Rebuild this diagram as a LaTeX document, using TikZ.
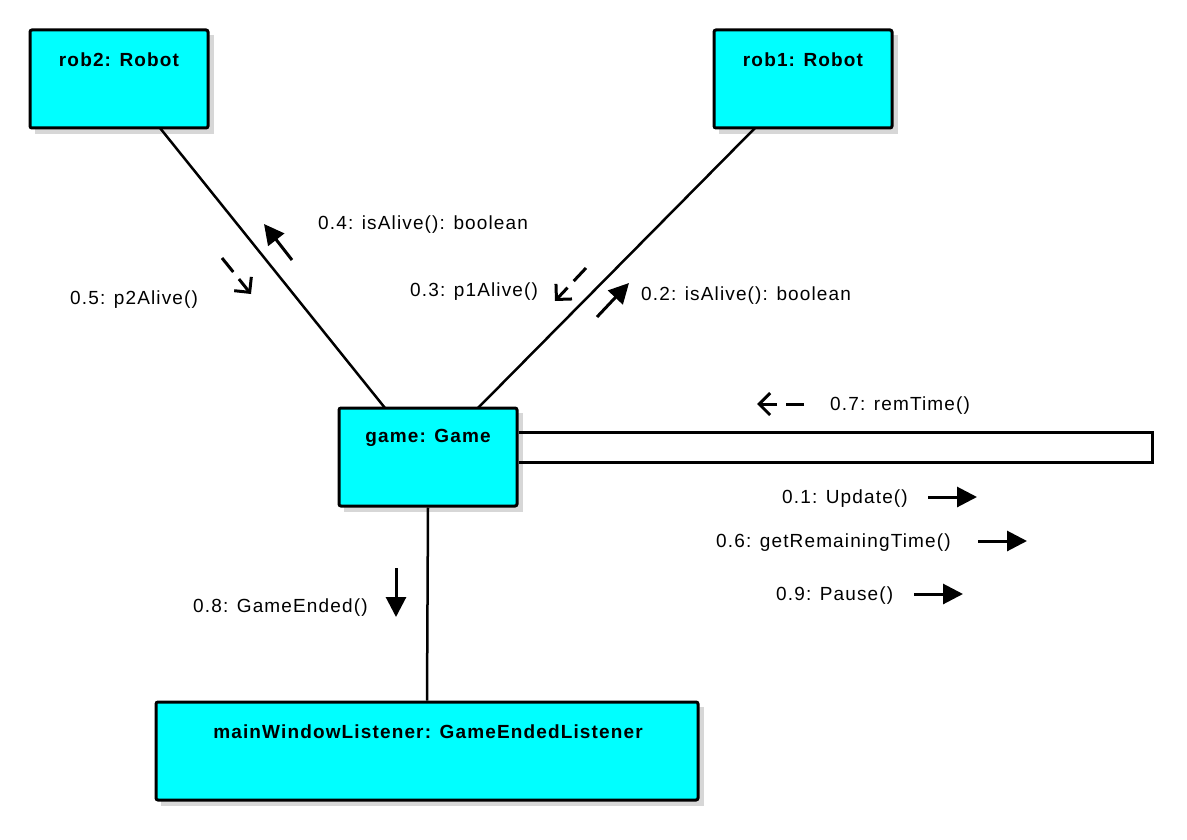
\documentclass[tikz,border=0pt]{standalone}
\usepackage{fontspec}
\setmainfont{Liberation Sans}[LetterSpace=6]
\usetikzlibrary{arrows.meta}
\definecolor{boxcyan}{RGB}{0,255,255}
\definecolor{shadowgray}{RGB}{215,215,215}
\tikzset{
  obj/.style={draw=black, line width=3pt, fill=boxcyan, rounded corners=2pt, inner sep=0pt},
  title/.style={font=\fontsize{19}{21}\selectfont\bfseries, inner sep=0pt},
  msg/.style={font=\fontsize{19}{21}\selectfont, inner sep=0pt, anchor=west},
  link/.style={line width=2.5pt},
  call/.style={line width=3pt, -{Triangle[length=20pt,width=20pt]}},
  reply/.style={line width=3pt, dash pattern=on 18pt off 9pt, -{Straight Barb[length=11pt,width=22pt,line width=3pt]}}
}
\begin{document}
\begin{tikzpicture}[x=1pt,y=-1pt]
\useasboundingbox (0,0) rectangle (1187,840);
% shadows
\fill[shadowgray] (35,35) rectangle (214,134);
\fill[shadowgray] (719,35) rectangle (898,134);
\fill[shadowgray] (344,413) rectangle (523,512);
\fill[shadowgray] (161,707) rectangle (704,806);
% objects
\node[obj, minimum width=178pt, minimum height=98pt] (rob2) at (119,79) {};
\node[obj, minimum width=178pt, minimum height=98pt] (rob1) at (803,79) {};
\node[obj, minimum width=178pt, minimum height=98pt] (game) at (428,457) {};
\node[obj, minimum width=542pt, minimum height=98pt] (mwl) at (427,751) {};
\node[title] (t2) at (119,60) {rob2: Robot};
\node[title] (t1) at (803,60) {rob1: Robot};
\node[title] (tg) at (428,438) {game: Game};
\node[title] (tm) at (428,732) {mainWindowListener: GameEndedListener};
% links
\coordinate (r2b) at (160,128); \coordinate (g1) at (385,408);
\coordinate (r1b) at (755,128); \coordinate (g2) at (478,408);
\draw[link] (r2b) -- (g1);
\draw[link] (r1b) -- (g2);
\draw[link] (game.south) -- (mwl.north);
% self link
\coordinate (sa) at (1152,432);
\coordinate (sb) at (1152,462);
\draw[line width=3pt, line join=miter] (game.east |- sa) -- (sa) -- (sb) -- (game.east |- sb);
% messages
\coordinate (a4s) at (292,260); \coordinate (a4e) at (264,224);
\draw[call] (a4s) -- (a4e);
\coordinate (a5s) at (222,258); \coordinate (a5e) at (251,294);
\draw[reply] (a5s) -- (a5e);
\coordinate (a3s) at (586,268); \coordinate (a3e) at (555,301);
\draw[reply] (a3s) -- (a3e);
\coordinate (a2s) at (597,317); \coordinate (a2e) at (629,283);
\draw[call] (a2s) -- (a2e);
\coordinate (a7s) at (804,404); \coordinate (a7e) at (757,404);
\draw[reply] (a7s) -- (a7e);
\coordinate (a1s) at (928,497); \coordinate (a1e) at (977,497);
\draw[call] (a1s) -- (a1e);
\coordinate (a6s) at (978,541); \coordinate (a6e) at (1027,541);
\draw[call] (a6s) -- (a6e);
\coordinate (a9s) at (914,594); \coordinate (a9e) at (963,594);
\draw[call] (a9s) -- (a9e);
\coordinate (a8s) at (396,568); \coordinate (a8e) at (396,617);
\draw[call] (a8s) -- (a8e);
% labels
\node[msg] (l4) at (318,225) {0.4: isAlive(): boolean};
\node[msg] (l5) at (70,300) {0.5: p2Alive()};
\node[msg] (l3) at (410,292) {0.3: p1Alive()};
\node[msg] (l2) at (641,296) {0.2: isAlive(): boolean};
\node[msg] (l7) at (830,406) {0.7: remTime()};
\node[msg] (l1) at (782,499) {0.1: Update()};
\node[msg] (l6) at (716,543) {0.6: getRemainingTime()};
\node[msg] (l9) at (776,596) {0.9: Pause()};
\node[msg] (l8) at (193,608) {0.8: GameEnded()};
\end{tikzpicture}
\end{document}
